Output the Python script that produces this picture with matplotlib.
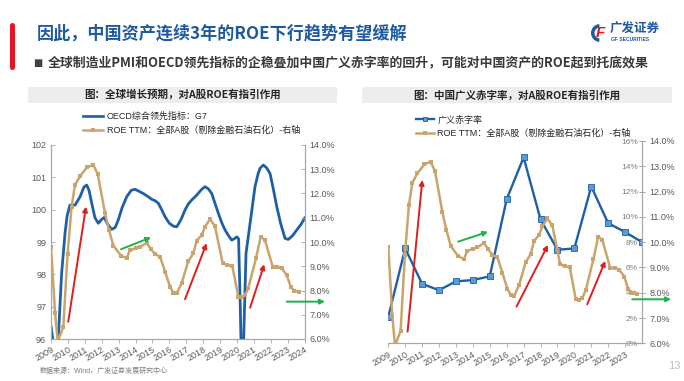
import matplotlib
matplotlib.use("Agg")
import matplotlib.pyplot as plt
from matplotlib import patches
from matplotlib.lines import Line2D
from matplotlib.ticker import FuncFormatter

plt.rcParams["font.family"] = ["Liberation Sans", "Noto Sans CJK SC"]

# ============================================================
# DATA
# ============================================================

# OECD composite leading indicator, G7 (left panel, left axis)
oecd_year = [2009.00, 2009.20, 2009.43, 2009.63, 2009.83, 2009.95, 2010.12, 2010.42,
             2010.72, 2010.95, 2011.11, 2011.25, 2011.41, 2011.60, 2011.80, 2012.00,
             2012.15, 2012.35, 2012.59, 2012.80, 2012.98, 2013.20, 2013.48, 2013.75,
             2013.97, 2014.20, 2014.46, 2014.75, 2014.96, 2015.15, 2015.35, 2015.55,
             2015.75, 2016.00, 2016.24, 2016.44, 2016.70, 2016.93, 2017.13, 2017.33,
             2017.62, 2017.90, 2018.11, 2018.30, 2018.51, 2018.70, 2018.90, 2019.10,
             2019.30, 2019.50, 2019.69, 2019.85, 2019.99, 2020.10, 2020.20, 2020.30,
             2020.40, 2020.54, 2020.78, 2021.07, 2021.25, 2021.37, 2021.56, 2021.75,
             2021.96, 2022.15, 2022.36, 2022.60, 2022.85, 2023.04, 2023.30, 2023.54,
             2023.80, 2024.03]
oecd_val = [96.40, 95.60, 96.00, 98.04, 99.27, 99.80, 100.14, 100.14,
            100.40, 100.70, 100.76, 100.60, 100.20, 99.75, 99.58, 99.70,
            99.76, 99.55, 99.39, 99.45, 99.68, 100.05, 100.40, 100.60,
            100.63, 100.57, 100.50, 100.40, 100.32, 100.28, 100.20, 100.00,
            99.78, 99.58, 99.49, 99.47, 99.70, 99.99, 100.18, 100.30,
            100.45, 100.62, 100.71, 100.65, 100.50, 100.20, 99.89, 99.60,
            99.37, 99.20, 99.06, 99.10, 99.16, 99.10, 97.00, 94.50,
            96.00, 98.65, 99.58, 100.71, 101.10, 101.28, 101.38, 101.30,
            101.12, 100.65, 100.09, 99.55, 99.11, 99.08, 99.20, 99.37,
            99.55, 99.76]

# ROE TTM, all A shares ex financials / oil & petrochemicals (right axes, %)
roe_year = [2009.00, 2009.24, 2009.40, 2009.73, 2009.98, 2010.22, 2010.42, 2010.72,
            2011.13, 2011.50, 2011.76, 2012.20, 2012.43, 2012.69, 2013.14, 2013.48,
            2013.66, 2014.02, 2014.27, 2014.66, 2014.91, 2015.15, 2015.45, 2015.75,
            2016.04, 2016.24, 2016.44, 2016.73, 2017.12, 2017.42, 2017.62, 2017.92,
            2018.11, 2018.41, 2018.70, 2019.16, 2019.43, 2019.73, 2020.08, 2020.28,
            2020.48, 2020.67, 2021.13, 2021.41, 2021.66, 2022.12, 2022.39, 2022.65,
            2022.95, 2023.18, 2023.38, 2023.69]
roe_val = [9.80, 7.06, 5.90, 6.50, 9.50, 11.46, 12.35, 12.72,
           13.08, 13.18, 12.81, 11.18, 10.50, 9.85, 9.44, 9.33,
           9.65, 9.74, 9.80, 9.96, 9.72, 9.50, 9.40, 8.78,
           8.16, 7.90, 7.88, 8.30, 9.20, 9.53, 10.05, 10.29,
           10.63, 10.94, 10.66, 9.12, 9.05, 9.01, 7.75, 7.72,
           7.81, 8.09, 9.33, 10.22, 10.08, 8.98, 8.98, 8.91,
           8.64, 8.16, 7.99, 7.95]

# China broad fiscal deficit ratio (right panel, left axis, %)
deficit_year = list(range(2009, 2025))
deficit_val = [2.1, 7.5, 4.7, 4.2, 4.9, 5.0, 5.3, 11.4,
               14.7, 9.8, 7.4, 7.5, 12.4, 9.5, 8.8, 8.0]

left_years = list(range(2009, 2025))
right_years = list(range(2009, 2024))

# trend arrows (start year, start roe, end year, end roe), roe axis coords
left_arrows = [(2010.02, 6.71, 2011.07, 11.46, "red"),
               (2013.14, 9.70, 2014.92, 10.19, "green"),
               (2016.93, 7.64, 2018.21, 9.95, "red"),
               (2020.78, 7.29, 2021.62, 9.08, "red"),
               (2022.95, 7.54, 2025.21, 7.54, "green")]
right_arrows = [(2010.14, 6.46, 2011.01, 12.46, "red"),
                (2013.13, 10.02, 2014.90, 10.41, "green"),
                (2016.58, 7.45, 2018.44, 9.89, "red"),
                (2020.76, 7.54, 2021.83, 9.26, "red"),
                (2023.42, 7.74, 2025.72, 7.74, "green")]

# ============================================================
# STYLE
# ============================================================
BLUE = "#1F5FA6"
GOLD = "#C9A46C"
RED = "#E01E1E"
GREEN = "#1EB24A"
GREY = "#595959"
SPINE = "#A6A6A6"
ARROW_COL = {"red": RED, "green": GREEN}

W, H = 684, 381
fig = plt.figure(figsize=(W / 100, H / 100), dpi=100)


def fx(px):
    return px / W


def fy(py):
    return 1 - py / H


# ---------------- header ----------------
fig.patches.append(patches.FancyBboxPatch(
    (0.10, (H - 70) / 100), 0.05, 0.47, boxstyle="round,pad=0,rounding_size=0.025",
    transform=fig.dpi_scale_trans, facecolor="#E8141E", edgecolor="none"))
fig.text(fx(37), fy(33), "因此，中国资产连续3年的ROE下行趋势有望缓解",
         family=["Noto Sans CJK SC"], fontsize=12.3, fontweight="bold",
         color="#1E5AA0", va="center", ha="left")
fig.text(fx(33), fy(63), "■", family=["DejaVu Sans"], fontsize=7, color="#404040",
         va="center", ha="left")
fig.text(fx(48), fy(63),
         "全球制造业PMI和OECD领先指标的企稳叠加中国广义赤字率的回升，可能对中国资产的ROE起到托底效果",
         family=["Noto Sans CJK SC"], fontsize=9.3, fontweight="bold",
         color="#3A3A3A", va="center", ha="left")

# logo
fig.patches.append(patches.Wedge((6.00, (H - 33) / 100), 0.09, 95, 265, width=0.035,
                                 transform=fig.dpi_scale_trans,
                                 facecolor="#1E5AA0", edgecolor="none"))
fig.text(fx(600), fy(33), "F", fontsize=11, fontweight="bold", style="italic",
         color="#E8141E", va="center", ha="center")
fig.text(fx(610), fy(29), "广发证券", family=["Noto Sans CJK SC"], fontsize=9,
         fontweight="bold", color="#1E5AA0", va="center", ha="left")
fig.text(fx(611), fy(39.5), "GF SECURITIES", fontsize=3.6, fontweight="bold",
         color="#1E5AA0", va="center", ha="left")

# panel title boxes
for x0, x1, label in [(28, 337, "图：全球增长预期，对A股ROE有指引作用"),
                      (362, 672, "图：中国广义赤字率，对A股ROE有指引作用")]:
    fig.patches.append(patches.Rectangle((fx(x0), fy(103)), fx(x1 - x0), 16 / H,
                                         transform=fig.transFigure,
                                         facecolor="#EDEDED", edgecolor="none"))
    fig.text(fx((x0 + x1) / 2), fy(95), label, family=["Noto Sans CJK SC"],
             fontsize=7.6, fontweight="bold", color="#262626", ha="center", va="center")

fig.text(fx(40), fy(371), "数据来源：Wind，广发证券发展研究中心", fontsize=5,
         color="#7F7F7F", ha="left", va="center")
fig.text(fx(681), fy(366), "13", fontsize=8, color="#BFBFBF", ha="right", va="center")

# ============================================================
# LEFT PANEL: OECD CLI vs ROE
# ============================================================
ax1 = fig.add_axes([fx(51), fy(339), fx(253.5), 194 / H])
ax1.plot(oecd_year, oecd_val, color=BLUE, lw=2.0, solid_capstyle="round")
ax1.set_xlim(2009, 2024)
ax1.set_ylim(96, 102)
ax1.set_yticks(range(96, 103))
ax1.set_xticks(left_years)
ax1.set_xticklabels([str(y) for y in left_years], rotation=30, ha="right",
                    rotation_mode="anchor")
ax1r = ax1.twinx()
ax1r.plot(roe_year, roe_val, color=GOLD, lw=1.8, marker="s", ms=2.2,
          markeredgewidth=0)
ax1r.set_ylim(6, 14)
ax1r.set_yticks(range(6, 15))
ax1r.yaxis.set_major_formatter(FuncFormatter(lambda v, p: f"{v:.1f}%"))

for a in (ax1, ax1r):
    a.set_facecolor("none")
    for s in a.spines.values():
        s.set_color(SPINE)
        s.set_linewidth(0.8)
    a.spines["top"].set_visible(False)
    a.tick_params(axis="both", colors=SPINE, labelcolor=GREY, labelsize=6.5,
                  length=3, width=0.6)
    a.tick_params(axis="y", direction="in")
ax1.tick_params(axis="x", direction="out", pad=1.5)

for x0, y0, x1, y1, c in left_arrows:
    ax1r.annotate("", xy=(x1, y1), xytext=(x0, y0), annotation_clip=False,
                  arrowprops=dict(arrowstyle="-|>", color=ARROW_COL[c], lw=1.4,
                                  mutation_scale=7, shrinkA=0, shrinkB=0), zorder=5)

leg1 = [Line2D([], [], color=BLUE, lw=1.9),
        Line2D([], [], color=GOLD, lw=1.8, marker="s", ms=2.5, markeredgewidth=0)]
fig.legend(leg1, ["OECD综合领先指标：G7", "ROE TTM：全部A股（剔除金融石油石化）-右轴"],
           loc="upper left", bbox_to_anchor=(fx(78), fy(107)), frameon=False,
           fontsize=6.5, handlelength=2.3, handletextpad=0.4, labelspacing=0.55,
           borderpad=0, labelcolor="#262626")

# ============================================================
# RIGHT PANEL: broad deficit vs ROE
# ============================================================
ax2 = fig.add_axes([fx(388.3), fy(343.3), fx(253.7), 202.3 / H])
ax2.plot(deficit_year, deficit_val, color=BLUE, lw=1.7, marker="s", ms=4,
         markerfacecolor="#5B9BD5", markeredgecolor=BLUE, markeredgewidth=0.6)
ax2.set_xlim(2009, 2024)
ax2.set_ylim(0, 16)
ax2.set_yticks(range(0, 17, 2))
ax2.yaxis.set_major_formatter(FuncFormatter(lambda v, p: f"{v:.0f}%"))
ax2.set_xticks(right_years)
ax2.set_xticklabels([str(y) for y in right_years], rotation=30, ha="right",
                    rotation_mode="anchor")
ax2.spines["left"].set_position(("axes", 1.0))
ax2r = ax2.twinx()
ax2r.plot(roe_year, roe_val, color=GOLD, lw=1.8, marker="s", ms=2.2,
          markeredgewidth=0)
ax2r.set_ylim(6, 14)
ax2r.set_yticks(range(6, 15))
ax2r.yaxis.set_major_formatter(FuncFormatter(lambda v, p: f"{v:.1f}%"))

for a in (ax2, ax2r):
    a.set_facecolor("none")
    for s in a.spines.values():
        s.set_color(SPINE)
        s.set_linewidth(0.8)
    a.spines["top"].set_visible(False)
    a.tick_params(axis="both", colors=SPINE, labelcolor=GREY, labelsize=6.5,
                  length=4, width=0.6)
    a.tick_params(axis="y", direction="inout")
ax2.spines["right"].set_visible(False)
ax2r.spines["left"].set_visible(False)
ax2.tick_params(axis="y", labelsize=6, pad=1, labelcolor="#7F7F7F")
ax2.tick_params(axis="x", direction="out", length=3, pad=1.5)

for x0, y0, x1, y1, c in right_arrows:
    ax2r.annotate("", xy=(x1, y1), xytext=(x0, y0), annotation_clip=False,
                  arrowprops=dict(arrowstyle="-|>", color=ARROW_COL[c], lw=1.4,
                                  mutation_scale=7, shrinkA=0, shrinkB=0), zorder=5)

leg2 = [Line2D([], [], color=BLUE, lw=1.7, marker="s", ms=3.5,
               markerfacecolor="#5B9BD5", markeredgecolor=BLUE, markeredgewidth=0.6),
        Line2D([], [], color=GOLD, lw=1.8, marker="s", ms=2.5, markeredgewidth=0)]
fig.legend(leg2, ["广义赤字率", "ROE TTM：全部A股（剔除金融石油石化）-右轴"],
           loc="upper left", bbox_to_anchor=(fx(411), fy(111)), frameon=False,
           fontsize=6.5, handlelength=2.0, handletextpad=0.4, labelspacing=0.45,
           borderpad=0, labelcolor="#262626")

fig.savefig("out.png", dpi=100)
